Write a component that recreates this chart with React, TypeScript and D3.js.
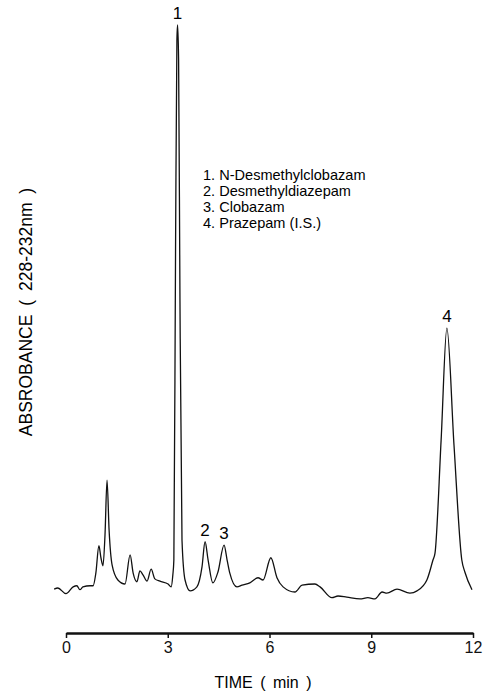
import React, { useEffect, useRef } from 'react';
import * as d3 from 'd3';

// retention time (min) and relative absorbance
const times = [
  -0.35, -0.24, 0, 0.21, 0.32, 0.41, 0.5, 0.71, 0.8, 0.88, 0.97, 1.03, 1.09, 1.15, 1.21, 1.27,
  1.36, 1.53, 1.74, 1.89, 1.98, 2.09, 2.18, 2.27, 2.39, 2.51, 2.62, 2.77, 3.01, 3.1, 3.15,
  3.18, 3.23, 3.27, 3.29, 3.32, 3.36, 3.42, 3.51, 3.66, 3.86, 4.01, 4.1, 4.19, 4.33, 4.48,
  4.66, 4.75, 4.83, 5.04, 5.19, 5.42, 5.66, 5.81, 6.04, 6.22, 6.4, 6.75, 6.96, 7.34, 7.49,
  7.84, 8.02, 8.28, 8.67, 8.9, 9.11, 9.32, 9.46, 9.76, 10.14, 10.35, 10.64, 10.82, 10.88,
  11.06, 11.23, 11.44, 11.67, 11.76, 11.97
];
const absorbance = [
  1.9, 2.1, 1.1, 2.3, 2.5, 1.8, 2.3, 2.5, 2.5, 4.7, 9.5, 7.4, 6.0, 11.4, 21.0, 12.3,
  6.1, 3.5, 2.8, 7.9, 4.7, 3.2, 5.1, 4.4, 3.3, 5.4, 3.7, 3.3, 2.8, 2.3, 4.4,
  7.0, 61.3, 98.1, 100.7, 94.6, 52.5, 10.5, 3.5, 1.6, 2.3, 5.8, 10.2, 7.0, 3.0, 4.9,
  9.6, 7.0, 4.7, 2.3, 2.6, 3.0, 3.9, 3.5, 7.4, 3.9, 2.3, 1.4, 2.6, 2.8, 2.3,
  0.4, 0.7, 0.5, 0.2, 0.4, 0.2, 1.4, 1.2, 1.9, 1.2, 1.6, 3.5, 7.0, 8.2,
  28.0, 47.6, 27.1, 7.0, 4.9, 1.8
];

const peakIds = ['1', '2', '3', '4'];
const peakTimes = [3.29, 4.1, 4.66, 11.23];
const peakHeights = [100.7, 10.2, 9.6, 47.6];
const compounds = ['N-Desmethylclobazam', 'Desmethyldiazepam', 'Clobazam', 'Prazepam (I.S.)'];
const timeTicks = [0, 3, 6, 9, 12];

const W = 485;
const H = 697;
const FONT = '"Liberation Sans", Arial, sans-serif';

export default function App() {
  const ref = useRef<SVGSVGElement>(null);

  useEffect(() => {
    const svg = d3.select(ref.current);
    svg.selectAll('*').remove();

    const x = d3.scaleLinear().domain([0, 12]).range([66, 473]);
    const y = d3.scaleLinear().domain([0, 100]).range([600, 29]);

    const data = times.map((t, i) => ({ t, v: absorbance[i] }));

    const line = d3.line<{ t: number; v: number }>()
      .x(d => x(d.t))
      .y(d => y(d.v))
      .curve(d3.curveMonotoneX);

    svg.append('path')
      .datum(data)
      .attr('d', line)
      .attr('fill', 'none')
      .attr('stroke', '#111')
      .attr('stroke-width', 1.3)
      .attr('stroke-linejoin', 'round');

    // peak numbers
    svg.selectAll('text.peak')
      .data(peakIds)
      .enter()
      .append('text')
      .attr('class', 'peak')
      .attr('x', (d, i) => x(peakTimes[i]))
      .attr('y', (d, i) => y(peakHeights[i]) - 6)
      .attr('text-anchor', 'middle')
      .style('font-family', FONT)
      .style('font-size', '17px')
      .text(d => d);

    // legend, squeezed a bit to look like the narrow typeface of the original
    const legend = svg.selectAll('text.legend')
      .data(compounds)
      .enter()
      .append('text')
      .attr('class', 'legend')
      .attr('x', 203)
      .attr('y', (d, i) => 180 + i * 16)
      .style('font-family', FONT)
      .style('font-size', '15px')
      .text((d, i) => peakIds[i] + '. ' + d);
    legend.each(function () {
      const el = this as SVGTextElement;
      const len = el.getComputedTextLength();
      d3.select(el).attr('textLength', len * 0.97).attr('lengthAdjust', 'spacingAndGlyphs');
    });

    // time axis
    const axis = d3.axisBottom(x)
      .tickValues(timeTicks)
      .tickSize(5)
      .tickSizeOuter(0)
      .tickPadding(4)
      .tickFormat(d3.format('d'));

    const g = svg.append('g')
      .attr('transform', 'translate(0,633)')
      .call(axis);
    g.select('.domain').attr('stroke', '#111').attr('stroke-width', 2.6);
    g.selectAll('.tick line').attr('stroke', '#111').attr('stroke-width', 1.5);
    g.selectAll('.tick text')
      .attr('fill', '#111')
      .style('font-family', FONT)
      .style('font-size', '16px');

    svg.append('text')
      .attr('x', 263)
      .attr('y', 688)
      .attr('text-anchor', 'middle')
      .style('font-family', FONT)
      .style('font-size', '16px')
      .style('word-spacing', '3px')
      .text('TIME ( min )');

    svg.append('text')
      .attr('transform', 'translate(32,312) rotate(-90)')
      .attr('text-anchor', 'middle')
      .style('font-family', FONT)
      .style('font-size', '17.5px')
      .style('word-spacing', '4px')
      .text('ABSROBANCE ( 228-232nm )');
  }, []);

  return (
    <svg
      ref={ref}
      width={W}
      height={H}
      style={{ position: 'absolute', left: 0, top: 0, background: '#fff' }}
    />
  );
}
